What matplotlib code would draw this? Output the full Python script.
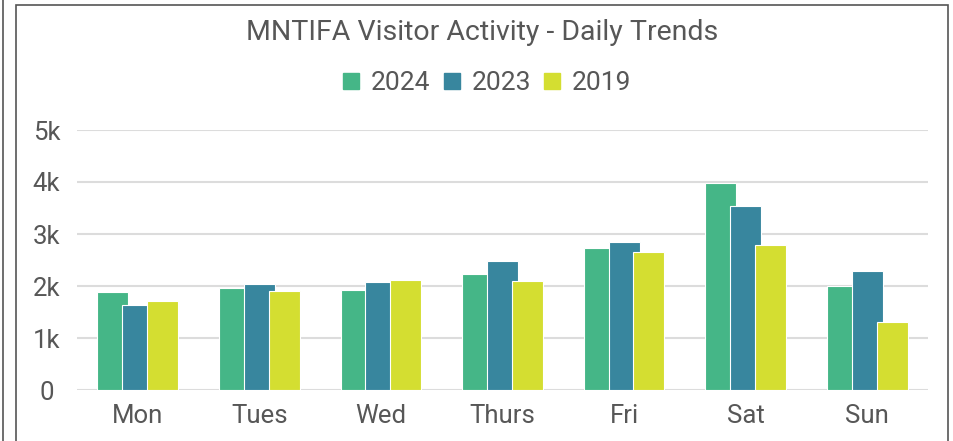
import matplotlib.pyplot as plt
import numpy as np
from matplotlib.lines import Line2D
from matplotlib.patches import Rectangle

days = ["Mon", "Tues", "Wed", "Thurs", "Fri", "Sat", "Sun"]
years = ["2024", "2023", "2019"]
visitors_2024 = [1890, 1960, 1930, 2240, 2740, 3990, 2000]
visitors_2023 = [1630, 2030, 2080, 2490, 2850, 3540, 2280]
visitors_2019 = [1710, 1900, 2120, 2100, 2650, 2790, 1300]
yticks = [0, 1000, 2000, 3000, 4000, 5000]
ytick_labels = ["0", "1k", "2k", "3k", "4k", "5k"]

colors = ["#45B687", "#38869E", "#D4DE31"]
text_color = "#575757"

plt.rcParams["font.family"] = ["Roboto", "DejaVu Sans"]

fig = plt.figure(figsize=(9.54, 4.41), dpi=100)
ax = fig.add_axes([77 / 954, 1 - 390 / 441, 851 / 954, 260 / 441])

x = np.arange(len(days))
step = 0.205
width = 0.255
for i, (vals, col) in enumerate(zip([visitors_2024, visitors_2023, visitors_2019], colors)):
    ax.bar(x + (i - 1) * step, vals, width=width, color=col, edgecolor="white",
           linewidth=0.8, zorder=3 + i)

ax.set_xlim(-0.5, len(days) - 0.5)
ax.set_ylim(0, 5000)
ax.set_yticks(yticks)
ax.set_yticklabels(ytick_labels)
ax.set_xticks(x)
ax.set_xticklabels(days)
ax.grid(axis="y", color="#DCDCDC", linewidth=1.5, zorder=0)
ax.set_axisbelow(True)
for s in ax.spines.values():
    s.set_visible(False)
ax.tick_params(axis="both", length=0, labelsize=18.5, colors=text_color)
ax.tick_params(axis="y", pad=22)
ax.tick_params(axis="x", pad=10)
for lbl in ax.get_yticklabels():
    lbl.set_horizontalalignment("center")

fig.text(482 / 954, 1 - 33 / 441, "MNTIFA Visitor Activity - Daily Trends",
         ha="center", va="center", fontsize=20.5, color=text_color)

handles = [Line2D([], [], marker="s", linestyle="none", markersize=11,
                  markerfacecolor=c, markeredgecolor=c) for c in colors]
fig.legend(handles, years, loc="center", bbox_to_anchor=(486 / 954, 1 - 83 / 441),
           ncol=3, frameon=False, fontsize=19, labelcolor=text_color,
           handletextpad=0.35, columnspacing=0.4, handlelength=0.8)

# chart frame
fig.add_artist(Rectangle((16 / 954, -0.05), 932 / 954, 1.05 - 5 / 441, transform=fig.transFigure,
                         fill=False, edgecolor="#555555", linewidth=1.2))
fig.add_artist(Line2D([2.5 / 954, 2.5 / 954], [0, 1], transform=fig.transFigure,
                      color="#555555", linewidth=1.2))

fig.savefig("out.png", dpi=100)
